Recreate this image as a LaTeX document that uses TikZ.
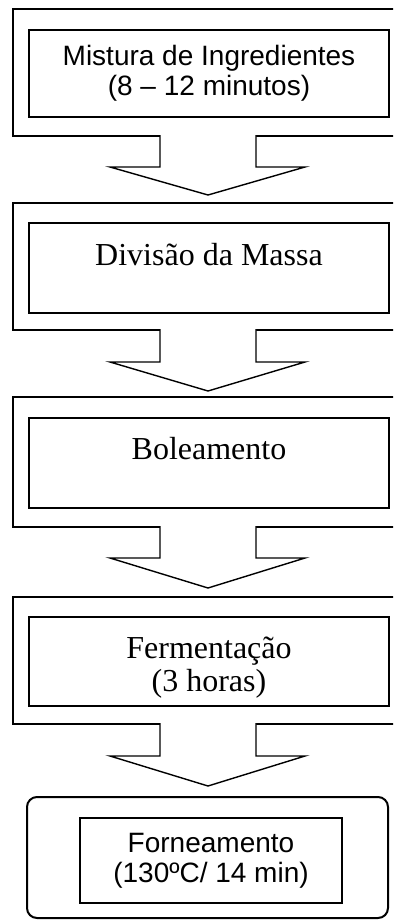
\documentclass[tikz,border=0pt]{standalone}
\usepackage{fontspec}
\setmainfont{Liberation Serif}
\setsansfont{Liberation Sans}
\usepackage{tikz}
\usetikzlibrary{calc}
\tikzset{outerbox/.style={line width=1pt, minimum width=200pt, inner sep=0pt},
         innerbox/.style={draw, line width=1pt, minimum width=180pt, inner sep=0pt, align=center}}

\begin{document}
\begin{tikzpicture}[x=0.5pt, y=-0.5pt,
    frame/.style={draw, line width=1pt, line join=miter},
    blockarrow/.style={draw, fill=white, line width=0.7pt, line join=miter},
    sanstext/.style={font=\sffamily\fontsize{14}{15}\selectfont},
    seriftext/.style={font=\rmfamily\fontsize{16}{16.5}\selectfont, align=center}]
\useasboundingbox (0,0) rectangle (393,920);
\clip (0,0) rectangle (393,920);

% outer frames (right side runs off the page)
\node[outerbox, minimum height=62.5pt] (o1) at (214,72.5) {};
\node[outerbox, minimum height=62.5pt] (o2) at (214,266.5) {};
\node[outerbox, minimum height=64pt] (o3) at (214,462) {};
\node[outerbox, minimum height=62.5pt] (o4) at (214,660.5) {};
\node[draw, line width=1pt, rounded corners=5pt, minimum width=180.5pt, minimum height=60.5pt] (o5) at (207.5,857.5) {};
\draw[frame] (o1.north east) -- (o1.north west) -- (o1.south west) -- (o1.south east);
\draw[frame] (o2.north east) -- (o2.north west) -- (o2.south west) -- (o2.south east);
\draw[frame] (o3.north east) -- (o3.north west) -- (o3.south west) -- (o3.south east);
\draw[frame] (o4.north east) -- (o4.north west) -- (o4.south west) -- (o4.south east);

% inner boxes
\node[innerbox, sanstext, minimum height=43.5pt] (mistura) at (209,73.5)
     {Mistura de Ingredientes\\(8 – 12 minutos)};
\node[innerbox, minimum height=45pt] (divisao) at (209,268) {};
\node[innerbox, minimum height=45pt] (boleamento) at (209,463) {};
\node[innerbox, minimum height=44.5pt] (fermentacao) at (209,661.5) {};
\node[innerbox, sanstext, minimum width=131pt, minimum height=42.5pt] (forneamento) at (211,860.5)
     {Forneamento\\(130ºC/ 14 min)};

\node[seriftext, anchor=base] (t-divisao) at (209,265) {Divisão da Massa};
\node[seriftext, anchor=base] (t-boleamento) at (209,459) {Boleamento};
\node[seriftext] (t-fermentacao) at (209,668) {Fermentação\\(3 horas)};

% block arrows
\draw[blockarrow] ($(o1.south)+(-54,-1)$) -- ++(0,32) -- ++(-50,0) -- ($(o2.north)+(-6,-8)$)
     -- ($(o1.south)+(91,31)$) -- ++(-49,0) -- ++(0,-32);
\draw[blockarrow] ($(o2.south)+(-54,-1)$) -- ++(0,33) -- ++(-50,0) -- ($(o3.north)+(-6,-6)$)
     -- ($(o2.south)+(91,32)$) -- ++(-49,0) -- ++(0,-33);
\draw[blockarrow] ($(o3.south)+(-54,-1)$) -- ++(0,32) -- ++(-50,0) -- ($(o4.north)+(-6,-9)$)
     -- ($(o3.south)+(91,31)$) -- ++(-49,0) -- ++(0,-32);
\draw[blockarrow] ($(o4.south)+(-54,-1)$) -- ++(0,33) -- ++(-50,0) -- ($(o5.north)+(0.5,-10)$)
     -- ($(o4.south)+(91,32)$) -- ++(-49,0) -- ++(0,-33);
\end{tikzpicture}
\end{document}
